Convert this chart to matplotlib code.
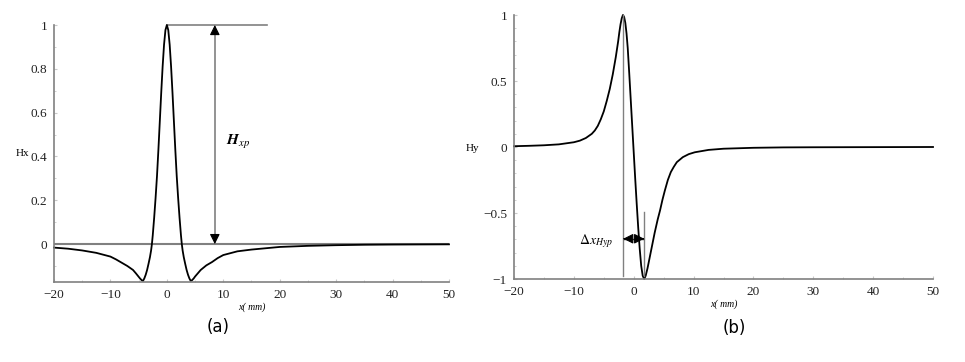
import matplotlib.pyplot as plt
from matplotlib.ticker import MultipleLocator

# values
hx_x = [-20, -17.5, -15, -12.5, -10, -9, -8, -7, -6, -5.5, -5.0, -4.75, -4.45, -4.23, -4.0, -3.75, -3.5,
        -3.25, -3.0, -2.8, -2.65, -2.5, -2.25, -2.0, -1.75, -1.5, -1.25, -1.0, -0.75, -0.5, -0.25, 0,
        0.25, 0.5, 0.75, 1.0, 1.25, 1.5, 1.75, 2.0, 2.25, 2.5, 2.65, 2.8, 3.0, 3.25, 3.5, 3.75, 4.0,
        4.23, 4.45, 4.75, 5.0, 5.5, 6, 7, 8, 9, 10, 12.5, 15, 17.5, 20, 25, 30, 35, 40, 45, 50]
hx_y = [-0.016, -0.021, -0.029, -0.04, -0.057, -0.07, -0.085, -0.1, -0.118, -0.133, -0.149, -0.157,
        -0.165, -0.168, -0.157, -0.14, -0.118, -0.09, -0.06, -0.03, 0.0, 0.04, 0.12, 0.21, 0.31, 0.43,
        0.56, 0.69, 0.81, 0.91, 0.977, 1.0, 0.977, 0.91, 0.81, 0.69, 0.56, 0.43, 0.31, 0.21, 0.12,
        0.04, 0.0, -0.03, -0.06, -0.09, -0.118, -0.14, -0.157, -0.168, -0.165, -0.157, -0.148, -0.133,
        -0.118, -0.097, -0.082, -0.064, -0.05, -0.033, -0.025, -0.019, -0.013, -0.008, -0.005, -0.003,
        -0.002, -0.0015, -0.001]

hy_x = [-20, -17.5, -15, -12.5, -10, -9, -8, -7, -6.5, -6, -5.5, -5, -4.5, -4, -3.5, -3, -2.8, -2.6,
        -2.4, -2.2, -2.0, -1.8, -1.6, -1.4, -1.2, -1.0, -0.75, -0.5, -0.25, 0, 0.25, 0.5, 0.75, 1.0,
        1.25, 1.5, 1.75, 2.0, 2.3, 2.7, 3.1, 3.5, 4.0, 4.4, 4.8, 5.2, 5.7, 6.2, 6.7, 7.2, 8.2, 9.2,
        10.2, 12.5, 15, 20, 25, 30, 40, 50]
hy_y = [0.006, 0.009, 0.013, 0.02, 0.036, 0.048, 0.068, 0.1, 0.125, 0.16, 0.21, 0.27, 0.35, 0.44, 0.55,
        0.68, 0.74, 0.8, 0.87, 0.93, 0.975, 1.0, 0.985, 0.94, 0.86, 0.75, 0.56, 0.36, 0.16, -0.04,
        -0.24, -0.43, -0.61, -0.77, -0.9, -0.975, -1.0, -0.975, -0.92, -0.83, -0.74, -0.65, -0.55,
        -0.48, -0.4, -0.33, -0.25, -0.19, -0.15, -0.115, -0.077, -0.054, -0.04, -0.022, -0.013,
        -0.006, -0.003, -0.002, -0.001, 0.0]

xticks = [-20, -10, 0, 10, 20, 30, 40, 50]
hx_ticks = [0, 0.2, 0.4, 0.6, 0.8, 1]
hy_ticks = [-1, -0.5, 0, 0.5, 1]

plt.rcParams['font.family'] = 'Liberation Serif'
plt.rcParams['mathtext.fontset'] = 'stix'

grey = '#808080'
fig = plt.figure(figsize=(9.65, 3.62), dpi=100)
ax1 = fig.add_axes([54 / 965, 80 / 362, 395 / 965, 257 / 362])
ax2 = fig.add_axes([514 / 965, 83 / 362, 419 / 965, 264 / 362])


def style(ax, yt):
    for s in ['top', 'right']:
        ax.spines[s].set_visible(False)
    for s in ['left', 'bottom']:
        ax.spines[s].set_color(grey)
        ax.spines[s].set_linewidth(1.2)
    ax.set_xlim(-20, 50)
    ax.set_xticks(xticks)
    ax.set_yticks(yt)
    ax.set_yticklabels(['%g' % v if v >= 0 else '\u2212%g' % -v for v in yt])
    ax.xaxis.set_minor_locator(MultipleLocator(5))
    ax.tick_params(which='both', direction='in', color='#c8c8c8', labelsize=9.5,
                   labelcolor='#222222', length=2.5, pad=5)
    ax.tick_params(which='minor', length=1.5)
    ax.set_xlabel('x( mm)', style='italic', fontsize=7, labelpad=1)


def head(ax, tip, tail):
    ax.annotate('', xy=tip, xytext=tail,
                arrowprops=dict(arrowstyle='-|>,head_length=0.6,head_width=0.3', color='black',
                                lw=0.8, shrinkA=0, shrinkB=0))


# (a) Hx
style(ax1, hx_ticks)
ax1.set_ylim(-0.173, 1.0)
ax1.yaxis.set_minor_locator(MultipleLocator(0.1))
ax1.plot([-20, 50], [0, 0], color=grey, lw=1.5)
ax1.plot([0, 17.8], [1, 1], color=grey, lw=1.2, clip_on=False)
ax1.plot(hx_x, hx_y, color='black', lw=1.3, clip_on=False)
ax1.plot([8.5, 8.5], [0.02, 0.98], color=grey, lw=1.2)
head(ax1, (8.5, 1.0), (8.5, 0.97))
head(ax1, (8.5, 0.0), (8.5, 0.03))
ax1.text(12.6, 0.466, r'$\boldsymbol{H}_{xp}$', fontsize=11, ha='center', va='center')
fig.text(22 / 965, 1 - 153 / 362, 'Hx', fontsize=8, ha='center', va='center')

# (b) Hy
style(ax2, hy_ticks)
ax2.set_ylim(-1, 1)
ax2.yaxis.set_minor_locator(MultipleLocator(0.1))
ax2.plot(hy_x, hy_y, color='black', lw=1.3, clip_on=False)
ax2.plot([-1.75, -1.75], [-0.98, 1.0], color=grey, lw=1)
ax2.plot([1.75, 1.75], [-0.98, -0.49], color=grey, lw=1)
ax2.plot([-1.6, 1.6], [-0.695, -0.695], color='#333333', lw=1)
head(ax2, (-1.75, -0.695), (-1.5, -0.695))
head(ax2, (1.75, -0.695), (1.5, -0.695))
ax2.text(-3.5, -0.715, r'$\Delta x_{Hyp}$', fontsize=10, ha='right', va='center')
fig.text(472 / 965, 1 - 148 / 362, 'Hy', fontsize=8, ha='center', va='center')

fig.text(218 / 965, 1 - 327 / 362, '(a)', family='DejaVu Sans', fontsize=12, ha='center', va='center')
fig.text(734 / 965, 1 - 328 / 362, '(b)', family='DejaVu Sans', fontsize=12, ha='center', va='center')

fig.savefig('out.png', dpi=100)
